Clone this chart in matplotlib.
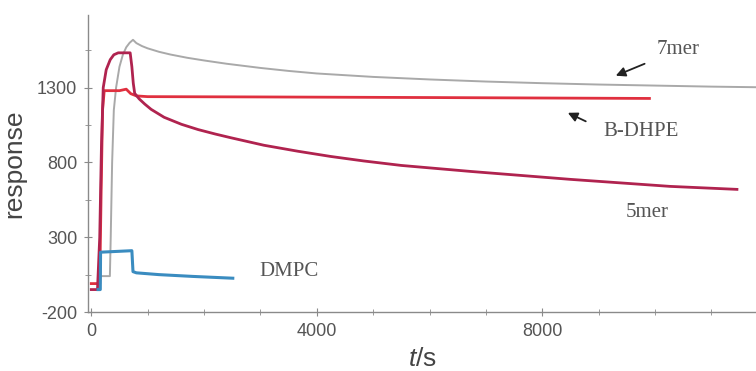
import numpy as np
import matplotlib
matplotlib.use("Agg")
import matplotlib.pyplot as plt
from matplotlib.ticker import MultipleLocator, FixedLocator

# time (s) and response
t_7mer = [120, 330, 345, 370, 400, 440, 500, 560, 620, 680, 740, 800, 900, 1000, 1200,
          1400, 1700, 2000, 2400, 3000, 3500, 4000, 5000, 6000, 7000, 8000, 9000, 10000, 11000, 11800]
r_7mer = [40, 40, 300, 800, 1150, 1300, 1440, 1520, 1570, 1600, 1620, 1598, 1578, 1563, 1540,
          1522, 1500, 1482, 1460, 1432, 1412, 1395, 1372, 1355, 1341, 1330, 1321, 1314, 1307, 1303]

t_5mer = [0, 110, 150, 180, 212, 265, 336, 400, 478, 690, 720, 745, 770, 850, 950, 1062, 1292,
          1600, 1894, 2200, 2478, 3062, 3664, 4248, 4832, 5500, 6726, 8496, 10266, 11452]
r_5mer = [-50, -50, 300, 900, 1300, 1420, 1487, 1520, 1533, 1533, 1440, 1330, 1262, 1225, 1190, 1155, 1102,
          1055, 1020, 990, 965, 915, 875, 840, 810, 780, 740, 687, 640, 620]

t_bdhpe = [0, 150, 175, 200, 230, 500, 620, 700, 800, 1000, 3000, 6000, 9900]
r_bdhpe = [-10, -10, 600, 1150, 1280, 1280, 1290, 1260, 1245, 1240, 1238, 1234, 1228]

t_dmpc = [120, 160, 165, 720, 740, 800, 1200, 1800, 2510]
r_dmpc = [-50, -50, 200, 210, 70, 62, 50, 38, 26]

yticks = [-200, 300, 800, 1300]
xticks = [0, 4000, 8000]

plt.rcParams['font.family'] = ['Liberation Sans', 'DejaVu Sans']
plt.rcParams['axes.unicode_minus'] = False
plt.rcParams['mathtext.fontset'] = 'custom'
plt.rcParams['mathtext.it'] = 'Liberation Sans:italic'
plt.rcParams['mathtext.rm'] = 'Liberation Sans'

fig = plt.figure(figsize=(7.56, 3.71), dpi=100)
ax = fig.add_axes([0.117, 0.159, 0.883, 0.801])

ax.plot(t_7mer, r_7mer, color='#a9a9a9', lw=1.4)
ax.plot(t_bdhpe, r_bdhpe, color='#e0303f', lw=2.0)
ax.plot(t_5mer, r_5mer, color='#b0234f', lw=2.0)
ax.plot(t_dmpc, r_dmpc, color='#3a8cc0', lw=2.2)

ax.set_xlim(-50, 11790)
ax.set_ylim(-200, 1787)

ax.spines['top'].set_visible(False)
ax.spines['right'].set_visible(False)
for s in ['left', 'bottom']:
    ax.spines[s].set_color('#8a8a8a')
    ax.spines[s].set_linewidth(1.0)

ax.set_yticks(yticks)
ax.set_xticks(xticks)
ax.yaxis.set_minor_locator(FixedLocator([50, 550, 1050, 1550]))
ax.xaxis.set_minor_locator(MultipleLocator(1000))
ax.tick_params(which='both', direction='inout', color='#8a8a8a', labelcolor='#555555',
               labelsize=13)
ax.tick_params(which='major', length=6, pad=5)
ax.tick_params(which='minor', length=4)

ax.set_ylabel('response', fontsize=19, color='#444444', labelpad=8)
ax.set_xlabel(r'$t$/s', fontsize=19, color='#444444', labelpad=5)

lab = dict(fontsize=15, color='#555555', family='Liberation Serif', ha='center', va='center')
ax.text(10400, 1553, '7mer', **lab)
ax.text(9750, 1007, 'B-DHPE', **lab)
ax.text(9860, 467, '5mer', **lab)
ax.text(3500, 73, 'DMPC', **lab)

arr = dict(arrowstyle='-|>', color='#222222', lw=1.3, mutation_scale=14)
ax.annotate('', xy=(9257, 1373), xytext=(9860, 1467), arrowprops=arr)
ax.annotate('', xy=(8408, 1140), xytext=(8815, 1067), arrowprops=arr)

fig.savefig('out.png', dpi=100)
